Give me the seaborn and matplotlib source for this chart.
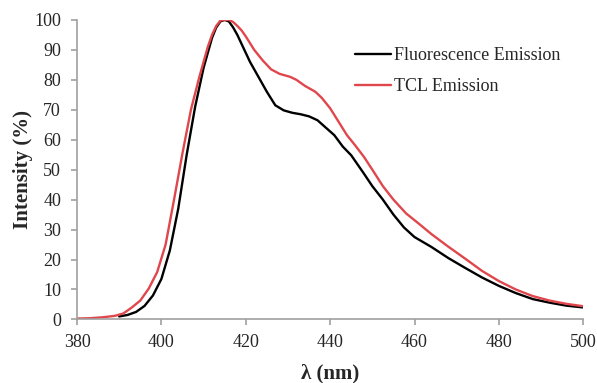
import pandas as pd
import matplotlib
matplotlib.use("Agg")
import matplotlib.pyplot as plt
import seaborn as sns


# Fluorescence emission (black)
fl_wavelength = [390, 392, 394, 396, 398, 400, 402, 404, 406, 408, 410, 412, 413, 414,
                 415, 416, 417, 418, 419, 421, 423, 425, 427, 429, 431, 433, 435, 437,
                 439, 441, 443, 445, 448, 450, 452.5, 455, 457.5, 460, 464, 468, 472,
                 476, 480, 484, 488, 492, 496, 500]
fl_intensity = [1.0, 1.5, 2.5, 4.5, 8.0, 13.5, 23, 37, 55, 71, 84, 94, 97.5, 99.5,
                100, 99.5, 97.5, 95, 92, 86, 81, 76, 71.5, 69.8, 69, 68.5, 67.8, 66.5,
                64, 61.5, 57.7, 54.8, 48.7, 44.5, 40, 35, 30.7, 27.5, 24.2, 20.5, 17.2,
                14, 11.2, 8.8, 6.8, 5.6, 4.6, 4.0]

# TCL emission (red)
tcl_wavelength = [380, 383, 386, 389, 391, 393, 395, 397, 399, 401, 403, 405, 407, 409,
                  411, 412, 413, 414, 415, 416, 417, 418, 419, 420, 422, 424, 426, 428,
                  430.5, 432, 434, 436.5, 438, 440, 442, 444, 446, 448, 450, 452.5, 455,
                  458, 461, 464, 468, 472, 476, 480, 484, 488, 492, 496, 500]
tcl_intensity = [0.3, 0.4, 0.7, 1.2, 2.0, 4.0, 6.3, 10.3, 15.8, 25, 40, 55.5, 70, 81,
                 91, 95, 98, 99.8, 100, 100, 99.3, 98, 96.5, 94.5, 90, 86.5, 83.5, 82,
                 81, 80, 78, 76, 74, 70.5, 66, 61.5, 58, 54.3, 50, 44.5, 40,
                 35.4, 32, 28.5, 24.3, 20.3, 16.2, 12.8, 10, 7.8, 6.3, 5.2, 4.4]

series_names = ["Fluorescence Emission", "TCL Emission"]
series_colors = ["#000000", "#e0474c"]

df = pd.concat([
    pd.DataFrame({"wavelength": fl_wavelength, "intensity": fl_intensity, "series": series_names[0]}),
    pd.DataFrame({"wavelength": tcl_wavelength, "intensity": tcl_intensity, "series": series_names[1]}),
])

sns.set_style("white")
plt.rcParams["font.family"] = ["Liberation Serif", "DejaVu Serif"]

fig = plt.figure(figsize=(5.97, 3.83), dpi=100)
ax = fig.add_axes([0.129, 0.166, 0.848, 0.782])

sns.lineplot(data=df, x="wavelength", y="intensity", hue="series",
             palette=dict(zip(series_names, series_colors)), linewidth=1.7,
             estimator=None, sort=False, ax=ax)

ax.set_xlim(380, 500)
ax.set_ylim(0, 100)
ax.set_xticks(range(380, 501, 20))
ax.set_yticks(range(0, 101, 10))
ax.tick_params(axis="both", labelsize=13, direction="out", length=4.5, width=1.2,
               color="#a0a0a0", left=True, bottom=True)
ax.tick_params(axis="y", pad=7)
ax.tick_params(axis="x", pad=6)
for side in ["top", "right"]:
    ax.spines[side].set_visible(False)
for side in ["left", "bottom"]:
    ax.spines[side].set_color("#a0a0a0")
    ax.spines[side].set_linewidth(1.2)

ax.set_xlabel("λ (nm)", fontsize=15, fontweight="bold", labelpad=9)
ax.set_ylabel("Intensity (%)", fontsize=15, fontweight="bold", labelpad=1)

ax.legend(frameon=False, fontsize=13, handlelength=1.95, handletextpad=0.17,
          labelspacing=0.8, loc="upper left", bbox_to_anchor=(0.568, 0.92),
          bbox_transform=fig.transFigure)

fig.savefig("out.png", dpi=100)
